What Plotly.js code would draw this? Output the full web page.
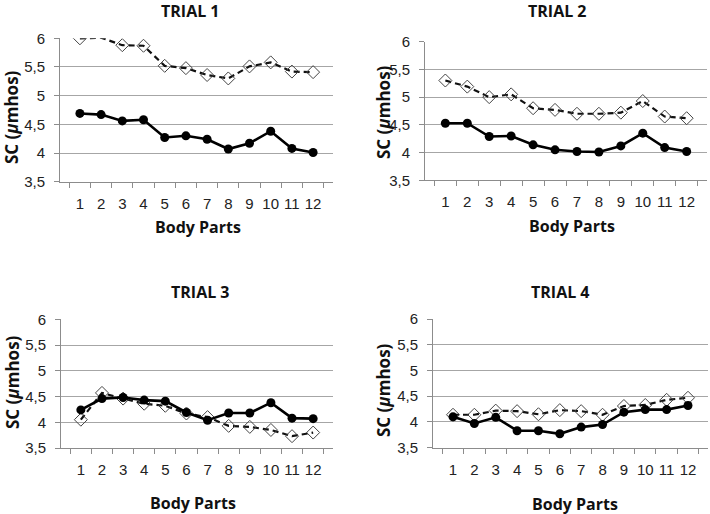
<!DOCTYPE html>
<html>
<head>
<meta charset="utf-8">
<script src="https://cdn.plot.ly/plotly-3.0.1.min.js"></script>
<style>html,body{margin:0;padding:0;background:#fff}#chart{width:710px;height:514px}</style>
</head>
<body>
<div id="chart"></div>
<script>
const bodyParts = ['1','2','3','4','5','6','7','8','9','10','11','12'];
const panelTitles = ['TRIAL 1','TRIAL 2','TRIAL 3','TRIAL 4'];
const yTickVals = [3.5, 4, 4.5, 5, 5.5, 6];
const yTickText = ['3,5', '4', '4,5', '5', '5,5', '6'];

const trial1Solid  = [4.69, 4.67, 4.56, 4.58, 4.27, 4.30, 4.24, 4.07, 4.17, 4.38, 4.08, 4.01];
const trial1Dashed = [6.00, 6.01, 5.88, 5.87, 5.52, 5.48, 5.36, 5.30, 5.51, 5.58, 5.42, 5.41];
const trial2Solid  = [4.53, 4.53, 4.29, 4.30, 4.14, 4.05, 4.02, 4.01, 4.12, 4.35, 4.09, 4.02];
const trial2Dashed = [5.30, 5.19, 5.00, 5.05, 4.80, 4.77, 4.70, 4.70, 4.72, 4.93, 4.65, 4.62];
const trial3Solid  = [4.24, 4.46, 4.48, 4.43, 4.41, 4.19, 4.04, 4.18, 4.18, 4.38, 4.08, 4.07];
const trial3Dashed = [4.05, 4.57, 4.46, 4.36, 4.32, 4.17, 4.10, 3.93, 3.91, 3.85, 3.73, 3.80];
const trial4Solid  = [4.10, 3.97, 4.09, 3.83, 3.83, 3.77, 3.90, 3.95, 4.19, 4.24, 4.24, 4.32];
const trial4Dashed = [4.14, 4.14, 4.22, 4.21, 4.15, 4.23, 4.21, 4.14, 4.31, 4.33, 4.43, 4.47];

const solidSeries = [trial1Solid, trial2Solid, trial3Solid, trial4Solid];
const dashedSeries = [trial1Dashed, trial2Dashed, trial3Dashed, trial4Dashed];

const W = 710, H = 514;
// plot areas in pixels: [left, right, top, bottom]
const boxes = [
  [60, 333, 38.3, 181.7],
  [425, 707, 41.7, 180.3],
  [61, 333, 319.3, 448],
  [433, 708, 319, 447.7]
];
const titlePos = [[191, 11], [557, 11], [200, 292], [560, 292]];
const xTitlePos = [[198, 227], [572, 226], [193, 503], [575, 504]];
const yTitlePos = [[12, 117], [383, 112], [12, 382], [383, 390]];

const data = [];
const layout = {
  width: W, height: H,
  margin: {l: 0, r: 0, t: 0, b: 0},
  paper_bgcolor: '#fff', plot_bgcolor: '#fff',
  showlegend: false,
  font: {family: 'Liberation Sans, Arial, sans-serif', color: '#222', size: 13},
  annotations: []
};

const titleFont = {family: 'Open Sans, sans-serif', size: 16, color: '#111', weight: 'bold'};

for (let i = 0; i < 4; i++) {
  const n = i === 0 ? '' : String(i + 1);
  const xa = 'x' + n, ya = 'y' + n;
  data.push({
    x: bodyParts, y: dashedSeries[i], xaxis: xa, yaxis: ya,
    type: 'scatter', mode: 'lines+markers',
    line: {color: '#111', width: 2.2, dash: '6px,4px'},
    marker: {symbol: 'diamond-open', size: 10, color: '#444', line: {width: 1, color: '#444'}},
    cliponaxis: true
  });
  data.push({
    x: bodyParts, y: solidSeries[i], xaxis: xa, yaxis: ya,
    type: 'scatter', mode: 'lines+markers',
    line: {color: '#000', width: 2.6},
    marker: {symbol: 'circle', size: 9, color: '#000'},
    cliponaxis: false
  });
  const b = boxes[i];
  layout['xaxis' + n] = {
    type: 'category',
    domain: [b[0] / W, b[1] / W],
    anchor: ya,
    showgrid: false, zeroline: false,
    showline: true, linecolor: '#8c8c8c', linewidth: 1,
    ticks: 'outside', tickson: 'boundaries', ticklen: 5, tickcolor: '#8c8c8c',
    tickangle: 0,
    ticklabelstandoff: 8,
    tickfont: {family: 'Liberation Sans, Arial, sans-serif', size: 15, color: '#222'},
    fixedrange: true
  };
  layout['yaxis' + n] = {
    domain: [1 - b[3] / H, 1 - b[2] / H],
    anchor: xa,
    range: [3.5, 6],
    tickmode: 'array', tickvals: yTickVals, ticktext: yTickText,
    showgrid: true, gridcolor: '#a6a6a6', gridwidth: 1,
    zeroline: false,
    showline: true, linecolor: '#8c8c8c', linewidth: 1,
    ticks: 'outside', ticklen: 5, tickcolor: '#8c8c8c',
    ticklabelstandoff: 6,
    tickfont: {family: 'Liberation Sans, Arial, sans-serif', size: 15, color: '#222'},
    fixedrange: true
  };
  layout.annotations.push({
    text: panelTitles[i], xref: 'paper', yref: 'paper',
    x: titlePos[i][0] / W, y: 1 - titlePos[i][1] / H,
    xanchor: 'center', yanchor: 'middle', showarrow: false, font: titleFont
  });
  layout.annotations.push({
    text: 'Body Parts', xref: 'paper', yref: 'paper',
    x: xTitlePos[i][0] / W, y: 1 - xTitlePos[i][1] / H,
    xanchor: 'center', yanchor: 'middle', showarrow: false, font: titleFont
  });
  layout.annotations.push({
    text: 'SC (<i>μ</i>mhos)', xref: 'paper', yref: 'paper',
    x: yTitlePos[i][0] / W, y: 1 - yTitlePos[i][1] / H,
    xanchor: 'center', yanchor: 'middle', textangle: -90, showarrow: false,
    font: {family: 'Open Sans, sans-serif', size: 17, color: '#111', weight: 'bold'}
  });
}

Plotly.newPlot('chart', data, layout, {staticPlot: true});
</script>
</body>
</html>
